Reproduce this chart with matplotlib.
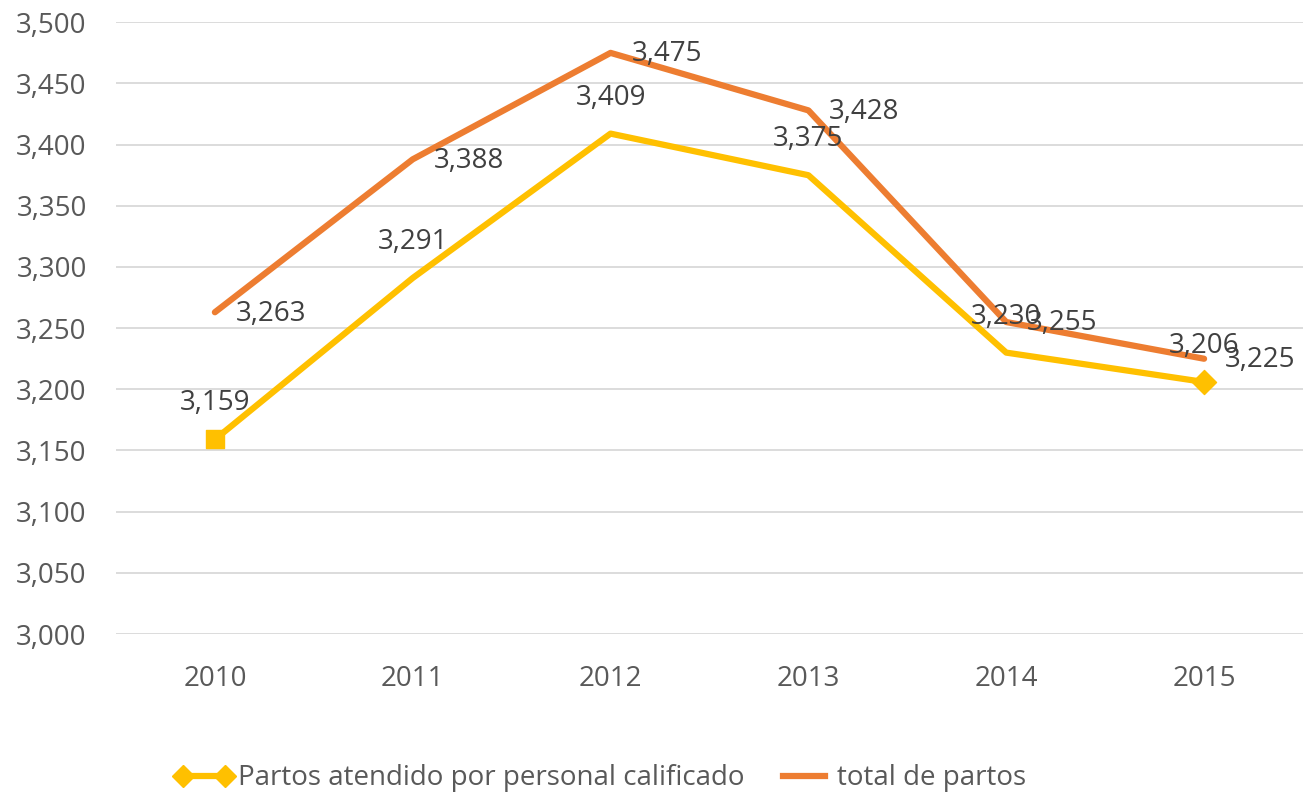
import matplotlib.pyplot as plt
from matplotlib.lines import Line2D

# data
years = ['2010', '2011', '2012', '2013', '2014', '2015']
calificado = [3159, 3291, 3409, 3375, 3230, 3206]
total = [3263, 3388, 3475, 3428, 3255, 3225]

yellow = '#FFC000'
orange = '#ED7D31'
txt = '#404040'

plt.rcParams['font.family'] = ['Open Sans', 'DejaVu Sans']

fig = plt.figure(figsize=(13.03, 7.96), dpi=100)
ax = fig.add_axes([0.089, 0.2035, 0.911, 0.7685])

x = list(range(len(years)))

ax.plot(x, total, color=orange, lw=4.5, solid_capstyle='round', zorder=3)
ax.plot(x, calificado, color=yellow, lw=4.5, solid_capstyle='round', zorder=4)
ax.scatter([x[0]], [calificado[0]], marker='s', s=150, color=yellow, zorder=5)
ax.scatter([x[-1]], [calificado[-1]], marker='D', s=150, color=yellow, zorder=5)

fs = 20
for xi, v in zip(x, calificado):
    ax.annotate(f'{v:,}', (xi, v), xytext=(0, 26), textcoords='offset points',
                ha='center', va='center', fontsize=fs, color=txt, zorder=6)
for xi, v in zip(x, total):
    ax.annotate(f'{v:,}', (xi, v), xytext=(15, -1), textcoords='offset points',
                ha='left', va='center', fontsize=fs, color=txt, zorder=6)

ax.set_xlim(-0.5, len(years) - 0.5)
ax.set_ylim(3000, 3500)
ax.set_yticks(range(3000, 3501, 50))
ax.yaxis.set_major_formatter(plt.FuncFormatter(lambda v, p: f'{int(v):,}'))
ax.set_xticks(x)
ax.set_xticklabels(years)
ax.tick_params(axis='both', length=0, labelsize=fs, labelcolor='#595959')
ax.tick_params(axis='x', pad=22)
ax.tick_params(axis='y', pad=21)
ax.grid(axis='y', color='#D9D9D9', lw=1.3)
ax.set_axisbelow(True)
for s in ax.spines.values():
    s.set_visible(False)

handles = [
    Line2D([0], [0], color=yellow, lw=4.5, marker='D', markersize=11),
    Line2D([0], [0], color=orange, lw=4.5),
]
fig.legend(handles, ['Partos atendido por personal calificado', 'total de partos'],
           loc='center', bbox_to_anchor=(0.461, 0.022), ncol=2, frameon=False,
           fontsize=fs, labelcolor='#595959', numpoints=2, handlelength=2.1,
           handletextpad=0.15, columnspacing=1.1)

fig.savefig('out.png', dpi=100)
